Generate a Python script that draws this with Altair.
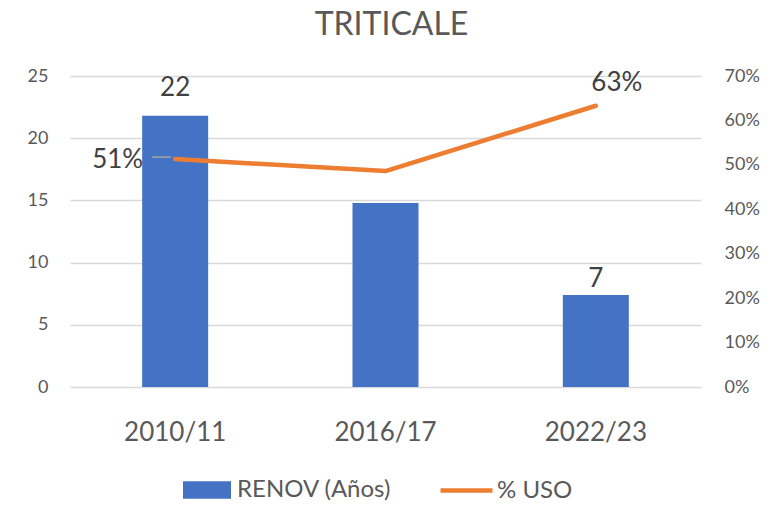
import altair as alt
import pandas as pd

periods = ["2010/11", "2016/17", "2022/23"]
renov = [21.8, 14.8, 7.4]
uso = [0.513, 0.486, 0.633]
renov_labels = ["22", "", "7"]
uso_labels = ["51%", "", "63%"]

df = pd.DataFrame({
    "periodo": periods,
    "renov": renov,
    "uso": uso,
    "renov_lbl": renov_labels,
    "uso_lbl": uso_labels,
    "s_bar": ["RENOV (Años)"] * 3,
    "s_line": ["% USO"] * 3,
})

FONT = "Lato"
GREY = "#595959"
DARK = "#404040"
BLUE = "#4472C4"
ORANGE = "#ED7D31"

x_enc = alt.X(
    "periodo:N", sort=periods, title=None,
    scale=alt.Scale(paddingInner=0, paddingOuter=0),
    axis=alt.Axis(labelAngle=0, labelFontSize=26, labelColor=GREY, labelFont=FONT,
                  labelPadding=32, ticks=False, domain=False),
)
y_left = alt.Y(
    "renov:Q", title=None, scale=alt.Scale(domain=[0, 25], nice=False),
    axis=alt.Axis(values=[0, 5, 10, 15, 20, 25], grid=True, gridColor="#d9d9d9",
                  gridWidth=1.3, domain=False, ticks=False, labelFontSize=18,
                  labelColor=GREY, labelFont=FONT, labelPadding=22),
)
y_right = alt.Y(
    "uso:Q", title=None, scale=alt.Scale(domain=[0, 0.7], nice=False),
    axis=alt.Axis(values=[0, 0.1, 0.2, 0.3, 0.4, 0.5, 0.6, 0.7], format=".0%",
                  orient="right", grid=False, domain=False, ticks=False,
                  labelFontSize=18, labelColor=GREY, labelFont=FONT, labelPadding=23),
)

bars = alt.Chart(df).mark_bar(size=66).encode(
    x=x_enc,
    y=y_left,
    color=alt.Color(
        "s_bar:N", scale=alt.Scale(domain=["RENOV (Años)"], range=[BLUE]),
        legend=alt.Legend(
            title=None, orient="none", legendX=113, legendY=390, direction="horizontal",
            symbolType="M-1,-0.36L1,-0.36L1,0.36L-1,0.36Z", symbolSize=2304,
            symbolStrokeWidth=0, labelFontSize=24, labelColor=GREY, labelFont=FONT,
            labelOffset=6, labelLimit=400,
        ),
    ),
)

bar_lbl_a = alt.Chart(df).transform_filter(alt.datum.periodo == "2010/11").mark_text(
    fontSize=26, font=FONT, color=DARK, baseline="middle", dy=-28
).encode(x=x_enc, y=y_left, text="renov_lbl:N")

bar_lbl_b = alt.Chart(df).transform_filter(alt.datum.periodo == "2022/23").mark_text(
    fontSize=26, font=FONT, color=DARK, baseline="middle", dy=-16
).encode(x=x_enc, y=y_left, text="renov_lbl:N")

line = alt.Chart(df).mark_line(strokeWidth=4.5, strokeCap="round", strokeJoin="round").encode(
    x=x_enc,
    y=y_right,
    stroke=alt.Stroke(
        "s_line:N", scale=alt.Scale(domain=["% USO"], range=[ORANGE]),
        legend=alt.Legend(
            title=None, orient="none", legendX=368, legendY=386, direction="horizontal",
            symbolType="stroke", symbolSize=2704, symbolStrokeWidth=4.5,
            labelFontSize=24, labelColor=GREY, labelFont=FONT, labelOffset=2,
            labelLimit=400,
        ),
    ),
)

leader = alt.Chart(df).transform_filter(alt.datum.periodo == "2010/11").mark_rule(
    color="#A6A6A6", strokeWidth=1.5, xOffset=-23, x2Offset=-4, yOffset=-2, y2Offset=-2
).encode(x=x_enc, x2="periodo", y=y_right, y2="uso")

line_lbl_a = alt.Chart(df).transform_filter(alt.datum.periodo == "2010/11").mark_text(
    fontSize=26, font=FONT, color=DARK, align="right", baseline="middle", dx=-32, dy=1
).encode(x=x_enc, y=y_right, text="uso_lbl:N")

line_lbl_b = alt.Chart(df).transform_filter(alt.datum.periodo == "2022/23").mark_text(
    fontSize=26, font=FONT, color=DARK, align="center", baseline="middle", dx=21, dy=-23
).encode(x=x_enc, y=y_right, text="uso_lbl:N")

left = alt.layer(bars, bar_lbl_a, bar_lbl_b)
right = alt.layer(leader, line, line_lbl_a, line_lbl_b)

chart = alt.layer(left, right).resolve_scale(y="independent").properties(
    width=631,
    height=311,
    background="white",
    title=alt.Title("TRITICALE", fontSize=32, font=FONT, color=GREY, fontWeight="normal",
                    anchor="middle", offset=25, dx=6),
    autosize=alt.AutoSizeParams(type="none"),
    padding={"left": 62, "top": 68, "right": 72, "bottom": 115},
).configure_view(stroke=None)

chart.save("out.html", embed_options={"renderer": "svg", "actions": False})
